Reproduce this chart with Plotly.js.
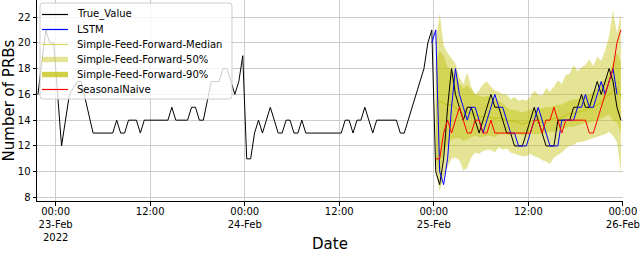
<!DOCTYPE html>
<html><head><meta charset="utf-8">
<script src="https://cdn.plot.ly/plotly-3.0.1.min.js"></script>
<style>html,body{margin:0;padding:0;background:#fff}#chart{width:640px;height:253px}</style>
</head><body><div id="chart"></div>
<script>
// ---- data (half-hourly samples) ----
const trueStart = '2022-02-22 21:45';
const lstmStart = '2022-02-24 23:45';
const forecastStart = '2022-02-25 00:15';
const stepMinutes = 30;

const trueValue = [
  16, 18.5, 21, 20, 20, 16, 12, 14, 16, 16.5, 17, 17, 15.7, 14.3,
  13, 13, 13, 13, 13, 13, 14, 13, 13, 14, 14, 14, 13, 14, 14, 14, 14, 14, 14, 14,
  15, 14, 14, 14, 14, 15, 15, 14, 14, 15.5, 17, 17, 17, 18, 18, 17, 16, 17, 19, 11,
  11, 13, 14, 13, 14, 15, 14, 13, 13, 14, 14, 13, 13, 14, 13, 13, 13, 13, 13, 13,
  13, 13, 13, 13, 14, 14, 13, 14, 14, 15, 14, 13, 14, 14, 14, 14, 14, 14, 13, 13,
  14, 15, 16, 17, 18, 20, 21, 10, 9, 11, 15, 18, 16, 15, 14, 15, 15, 14, 13, 14,
  15, 16, 15, 15, 14, 13, 13, 12, 12, 12, 13, 14, 15, 14, 13, 12, 12, 12, 14, 14,
  14, 14, 15, 15, 16, 15, 15, 16, 17, 16, 17, 18, 17, 15, 14
];
const lstm = [
  20, 21, 10, 9, 11, 15, 18, 16, 15, 14, 15, 15, 14, 13, 14, 15, 16, 15, 15, 14,
  13, 13, 12, 12, 12, 13, 14, 15, 14, 13, 12, 12, 12, 14, 14, 14, 14, 15, 15, 16,
  15, 15, 16, 17, 16, 17, 18, 16
];
const seasonalNaive = [
  11, 11, 13, 14, 13, 14, 15, 14, 13, 13, 14, 14, 13, 13, 14, 13, 13, 13, 13, 13,
  13, 13, 13, 13, 13, 14, 14, 13, 14, 14, 15, 14, 13, 14, 14, 14, 14, 14, 14, 13,
  13, 14, 15, 16, 17, 18, 20, 21
];
const sffMedian = [
  15, 15.5, 15.3, 15.2, 15.2, 15, 14.7, 14.5, 14.6, 14.5, 14.4, 14.3, 14.2, 14.3, 14.2, 14.1,
  14.2, 14.1, 14, 13.9, 13.9, 13.8, 13.7, 13.8, 13.9, 13.9, 13.8, 13.9, 14, 14, 14.1, 14.2,
  14.2, 14.4, 14.5, 14.5, 14.6, 14.7, 14.8, 14.9, 15, 15.2, 15.4, 15.7, 16, 16.3, 16.5, 15.8
];
const sff50Upper = [
  18.5, 19.4, 19, 18.1, 17.9, 17.5, 16.8, 16.5, 16.7, 16.4, 16, 15.9, 15.8, 15.9, 15.7, 15.6,
  15.5, 15.3, 15, 14.8, 14.8, 14.7, 14.6, 14.7, 14.8, 14.9, 14.8, 14.9, 15, 15, 15.1, 15.2,
  15.2, 15.4, 15.5, 15.6, 15.6, 15.8, 15.9, 16, 16.2, 16.5, 16.8, 17.2, 17.6, 18.5, 19.2, 18.5
];
const sff50Lower = [
  11, 9.8, 11.5, 12.2, 12.5, 12.6, 12.6, 12.4, 12.5, 12.7, 12.8, 12.7, 12.7, 12.8, 12.8, 12.7,
  12.9, 12.9, 12.9, 12.8, 12.9, 12.9, 12.8, 12.9, 13, 12.9, 12.9, 13, 13, 13.1, 13.1, 13.2,
  13.3, 13.4, 13.5, 13.5, 13.6, 13.7, 13.8, 13.8, 13.9, 14, 14.1, 14.3, 14.4, 14, 13.8, 13
];
const sff90Upper = [
  20, 22.3, 19.8, 19.2, 18.8, 18.4, 17.3, 16.8, 17.7, 16.6, 16, 16.3, 16.8, 17, 16.6, 16.3,
  16.2, 16, 16, 15.6, 15.8, 15.5, 15.6, 15.5, 15.8, 16.3, 16, 15.9, 16.5, 16.2, 16.6, 17.1,
  16.8, 17.5, 17.6, 18.3, 17.8, 18.1, 18.3, 18.7, 18.2, 18.9, 18.6, 19.4, 20.5, 22.5, 20.7, 22.3
];
const sff90Lower = [
  10, 8.5, 9.6, 10.4, 11, 11.1, 10.9, 10.1, 10.3, 11.1, 11.5, 11.4, 11.6, 11.7, 11.7, 11.5,
  11.9, 11.7, 11.8, 11.5, 11.4, 11.3, 11.2, 11.2, 11.4, 11.2, 11.1, 10.9, 10.8, 10.6, 11.1, 11.3,
  11.5, 11.8, 12, 12.1, 12.3, 12.3, 12.4, 12.5, 12.6, 12.7, 12.8, 12.9, 13.1, 12.8, 12.3, 9.9
];

const xTickVals = ['2022-02-23 00:00', '2022-02-23 12:00', '2022-02-24 00:00', '2022-02-24 12:00',
                   '2022-02-25 00:00', '2022-02-25 12:00', '2022-02-26 00:00'];
const xTickText = ['00:00<br>23-Feb<br>2022', '12:00', '00:00<br>24-Feb', '12:00',
                   '00:00<br>25-Feb', '12:00', '00:00<br>26-Feb'];
const yTickVals = [8, 10, 12, 14, 16, 18, 20, 22];

const legendLabels = ['True_Value', 'LSTM', 'Simple-Feed-Forward-Median',
                      'Simple-Feed-Forward-50%', 'Simple-Feed-Forward-90%', 'SeasonalNaive'];

// ---- helpers ----
function timeAxis(startStr, n) {
  const t0 = Date.parse(startStr.replace(' ', 'T') + ':00Z');
  const out = [];
  for (let i = 0; i < n; i++) {
    const d = new Date(t0 + i * stepMinutes * 60000);
    out.push(d.toISOString().slice(0, 16).replace('T', ' '));
  }
  return out;
}

const FONT = 'DejaVu Sans, sans-serif';
const C_BLACK = '#000000', C_BLUE = '#0000ff', C_RED = '#ff0000';
const C_MED = 'rgba(191,191,0,0.6)';
const C_BAND = 'rgba(191,191,0,0.42)';
const C_LEG50 = 'rgba(191,191,0,0.42)';
const C_LEG90 = 'rgba(191,191,0,0.72)';

const tTrue = timeAxis(trueStart, trueValue.length);
const tLstm = timeAxis(lstmStart, lstm.length);
const tFc = timeAxis(forecastStart, sffMedian.length);

const traces = [
  {x: tFc, y: sff90Lower, type: 'scatter', mode: 'lines', line: {width: 0}, hoverinfo: 'skip', showlegend: false},
  {x: tFc, y: sff90Upper, type: 'scatter', mode: 'lines', line: {width: 0}, fill: 'tonexty', fillcolor: C_BAND, showlegend: false},
  {x: tFc, y: sff50Lower, type: 'scatter', mode: 'lines', line: {width: 0}, hoverinfo: 'skip', showlegend: false},
  {x: tFc, y: sff50Upper, type: 'scatter', mode: 'lines', line: {width: 0}, fill: 'tonexty', fillcolor: C_BAND, showlegend: false},
  {x: tFc, y: sffMedian, type: 'scatter', mode: 'lines', line: {color: C_MED, width: 1.2}, showlegend: false},
  {x: tTrue, y: trueValue, type: 'scatter', mode: 'lines', line: {color: C_BLACK, width: 1}, showlegend: false},
  {x: tLstm, y: lstm, type: 'scatter', mode: 'lines', line: {color: C_BLUE, width: 1}, showlegend: false},
  {x: tFc, y: seasonalNaive, type: 'scatter', mode: 'lines', line: {color: C_RED, width: 1}, showlegend: false}
];

// ---- custom legend (matplotlib style) ----
const L = 37, W = 586, H = 201;
const px = v => (v - L) / W;
const py = v => 1 - v / H;
function roundRect(x0, y0, x1, y1, r) {
  const P = (x, y) => px(x).toFixed(5) + ',' + py(y).toFixed(5);
  return 'M' + P(x0 + r, y0) + ' L' + P(x1 - r, y0) + ' Q' + P(x1, y0) + ' ' + P(x1, y0 + r) +
         ' L' + P(x1, y1 - r) + ' Q' + P(x1, y1) + ' ' + P(x1 - r, y1) +
         ' L' + P(x0 + r, y1) + ' Q' + P(x0, y1) + ' ' + P(x0, y1 - r) +
         ' L' + P(x0, y0 + r) + ' Q' + P(x0, y0) + ' ' + P(x0 + r, y0) + ' Z';
}
const shapes = [{
  type: 'path', xref: 'paper', yref: 'paper', layer: 'above',
  path: roundRect(40, 3, 232, 99, 3),
  fillcolor: 'rgba(255,255,255,0.8)', line: {color: '#cccccc', width: 1}
}];
const annotations = [];
const legendStyles = [
  {kind: 'line', color: C_BLACK}, {kind: 'line', color: C_BLUE}, {kind: 'line', color: C_MED},
  {kind: 'patch', color: C_LEG50}, {kind: 'patch', color: C_LEG90}, {kind: 'line', color: C_RED}
];
legendLabels.forEach((lab, i) => {
  const yc = 14.5 + 15 * i;
  const st = legendStyles[i];
  if (st.kind === 'line') {
    shapes.push({type: 'line', xref: 'paper', yref: 'paper', layer: 'above',
      x0: px(42), x1: px(68), y0: py(yc), y1: py(yc), line: {color: st.color, width: 1.2}});
  } else {
    shapes.push({type: 'rect', xref: 'paper', yref: 'paper', layer: 'above',
      x0: px(42), x1: px(68), y0: py(yc - 2.7), y1: py(yc + 2.7), fillcolor: st.color, line: {width: 0}});
  }
  annotations.push({xref: 'paper', yref: 'paper', x: px(75), y: py(yc), xanchor: 'left', yanchor: 'middle',
    text: lab, showarrow: false, font: {family: FONT, size: 10, color: '#000'}});
});

const layout = {
  width: 640, height: 253,
  margin: {l: 37, r: 17, t: 0, b: 52, pad: 0},
  paper_bgcolor: '#ffffff', plot_bgcolor: '#ffffff',
  font: {family: FONT, size: 10, color: '#000'},
  showlegend: false,
  xaxis: {
    type: 'date', range: ['2022-02-22 21:38', '2022-02-26 00:01'],
    tickvals: xTickVals, ticktext: xTickText,
    showgrid: true, gridcolor: '#cccccc', gridwidth: 1,
    showline: true, linecolor: '#000', linewidth: 1,
    ticks: 'outside', ticklen: 3.5, tickcolor: '#000', tickwidth: 1,
    ticklabelstandoff: -3,
    tickfont: {family: FONT, size: 10, color: '#000'},
    zeroline: false, automargin: false,
    title: {text: 'Date', font: {family: FONT, size: 15, color: '#000'}, standoff: 6}
  },
  yaxis: {
    range: [7.73, 23.32],
    tickvals: yTickVals,
    showgrid: true, gridcolor: '#cccccc', gridwidth: 1,
    showline: true, linecolor: '#000', linewidth: 1,
    ticks: 'outside', ticklen: 3.5, tickcolor: '#000', tickwidth: 1,
    tickfont: {family: FONT, size: 10, color: '#000'},
    zeroline: false, automargin: false,
    title: {text: 'Number of PRBs', font: {family: FONT, size: 15, color: '#000'}, standoff: 4}
  },
  shapes: shapes,
  annotations: annotations
};

Plotly.newPlot('chart', traces, layout, {displayModeBar: false, staticPlot: true});
</script>
</body></html>
